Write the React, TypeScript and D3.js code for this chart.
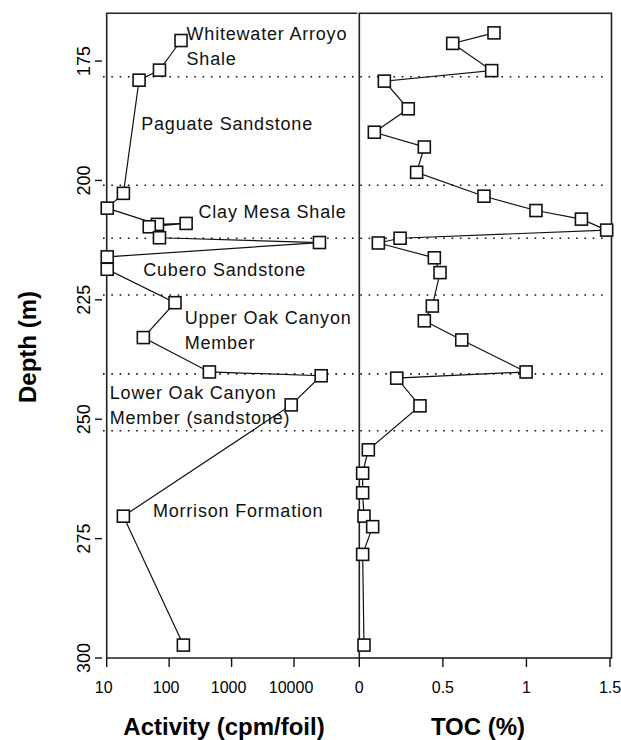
// App.tsx
import React, { useRef, useEffect } from 'react';
import * as d3 from 'd3';

// Activity profile (cpm/foil) against depth (m), in drawing order
const activityDepth = [170.7, 176.9, 179.0, 202.7, 205.8, 209.2, 209.0, 209.7, 212.0, 213.0, 216.0, 218.6, 225.6, 232.9, 240.1, 240.9, 247.0, 270.3, 297.3];
const activityValue = [155, 70, 33, 18.5, 10.2, 65, 187, 48, 70, 25500, 10.2, 10.2, 124, 38.6, 441, 27200, 9000, 18.5, 169];

// TOC profile (%) against depth (m)
const tocDepth = [169.1, 171.3, 177.0, 179.2, 185.0, 189.9, 193.0, 198.3, 203.3, 206.3, 208.1, 210.4, 212.1, 213.1, 216.2, 219.3, 226.3, 229.4, 233.4, 240.1, 241.4, 247.2, 256.4, 261.3, 265.4, 270.3, 272.5, 278.3, 297.3];
const tocValue = [0.806, 0.559, 0.792, 0.15, 0.293, 0.09, 0.389, 0.343, 0.746, 1.057, 1.329, 1.48, 0.244, 0.114, 0.449, 0.483, 0.437, 0.389, 0.613, 0.998, 0.224, 0.363, 0.054, 0.02, 0.02, 0.028, 0.08, 0.02, 0.028];

// formation boundaries (m)
const boundaries = [178.3, 201.0, 212.1, 224.0, 240.5, 252.4];

// formation names, anchored by activity value (left edge) and depth of first line
const formationLines = [
    ['Whitewater Arroyo', 'Shale'],
    ['Paguate Sandstone'],
    ['Clay Mesa Shale'],
    ['Cubero Sandstone'],
    ['Upper Oak Canyon', 'Member'],
    ['Lower Oak Canyon', 'Member (sandstone)'],
    ['Morrison Formation'],
];
const formationActivity = [190, 35.7, 295, 38.5, 177, 11.2, 55];
const formationDepth = [169.2, 188.0, 206.6, 218.6, 228.8, 244.5, 269.1];

const depthTicks = [175, 200, 225, 250, 275, 300];
const activityTicks = [10, 100, 1000, 10000];
const activityTickLabels = ['10', '100', '1000', '10000'];
const tocTicks = [0, 0.5, 1, 1.5];
const tocTickLabels = ['0', '0.5', '1', '1.5'];

function App() {
    const svgRef = useRef<SVGSVGElement | null>(null);

    useEffect(() => {
        if (!svgRef.current) return;
        const svg = d3.select(svgRef.current);
        svg.selectAll('*').remove();

        const top = 13.3;
        const bottom = 658;
        const leftX0 = 106.7;
        const tocX0 = 359.3;
        const tocX1 = 611.5;
        const font = '"Liberation Sans", Arial, sans-serif';

        const y = d3.scaleLinear().domain([165, 300]).range([top, bottom]);
        const xAct = d3.scaleLog().domain([10, 100000]).range([leftX0, 356.5]);
        const xToc = d3.scaleLinear().domain([0, 1.5]).range([tocX0, 610]);

        // dotted formation boundaries
        svg.append('g')
            .selectAll('line')
            .data(boundaries)
            .join('line')
            .attr('x1', 103)
            .attr('x2', 608)
            .attr('y1', d => y(d))
            .attr('y2', d => y(d))
            .attr('stroke', '#111')
            .attr('stroke-width', 1.6)
            .attr('stroke-dasharray', '1.6,6.7');

        // frames
        svg.append('path')
            .attr('d', `M${tocX0 - 2},${top}H${leftX0}V${bottom}H${tocX0}`)
            .attr('fill', 'none')
            .attr('stroke', '#222')
            .attr('stroke-width', 1.6);
        svg.append('rect')
            .attr('x', tocX0).attr('y', top)
            .attr('width', tocX1 - tocX0).attr('height', bottom - top)
            .attr('fill', 'none')
            .attr('stroke', '#222')
            .attr('stroke-width', 1.6);

        // depth ticks and labels
        const yAxis = svg.append('g');
        yAxis.selectAll('line')
            .data(depthTicks)
            .join('line')
            .attr('x1', 95).attr('x2', 102)
            .attr('y1', d => y(d)).attr('y2', d => y(d))
            .attr('stroke', '#111').attr('stroke-width', 1.4);
        yAxis.selectAll('text')
            .data(depthTicks)
            .join('text')
            .attr('transform', d => `translate(90,${y(d)}) rotate(-90)`)
            .attr('text-anchor', 'middle')
            .attr('font-family', font)
            .attr('font-size', 18)
            .text(d => String(d));

        // bottom ticks
        const xAxisA = svg.append('g');
        xAxisA.selectAll('line')
            .data(activityTicks)
            .join('line')
            .attr('x1', d => xAct(d)).attr('x2', d => xAct(d))
            .attr('y1', bottom).attr('y2', bottom + 9)
            .attr('stroke', '#111').attr('stroke-width', 1.4);
        xAxisA.selectAll('text')
            .data(activityTicks)
            .join('text')
            .attr('x', d => xAct(d) - 3)
            .attr('y', bottom + 35)
            .attr('text-anchor', 'middle')
            .attr('font-family', font)
            .attr('font-size', 16)
            .text((_, i) => activityTickLabels[i]);

        const xAxisT = svg.append('g');
        xAxisT.selectAll('line')
            .data(tocTicks)
            .join('line')
            .attr('x1', d => xToc(d)).attr('x2', d => xToc(d))
            .attr('y1', bottom).attr('y2', bottom + 9)
            .attr('stroke', '#111').attr('stroke-width', 1.4);
        xAxisT.selectAll('text')
            .data(tocTicks)
            .join('text')
            .attr('x', d => xToc(d))
            .attr('y', bottom + 35)
            .attr('text-anchor', 'middle')
            .attr('font-family', font)
            .attr('font-size', 16)
            .text((_, i) => tocTickLabels[i]);

        // axis titles
        svg.append('text')
            .attr('x', 224).attr('y', 735)
            .attr('text-anchor', 'middle')
            .attr('font-family', font).attr('font-weight', 'bold').attr('font-size', 24)
            .text('Activity (cpm/foil)');
        svg.append('text')
            .attr('x', 478).attr('y', 735)
            .attr('text-anchor', 'middle')
            .attr('font-family', font).attr('font-weight', 'bold').attr('font-size', 24)
            .text('TOC (%)');
        svg.append('text')
            .attr('transform', 'translate(36,347) rotate(-90)')
            .attr('text-anchor', 'middle')
            .attr('font-family', font).attr('font-weight', 'bold').attr('font-size', 24)
            .text('Depth (m)');

        // formation labels
        svg.append('g')
            .selectAll('text')
            .data(formationLines)
            .join('text')
            .attr('font-family', font)
            .attr('font-size', 18)
            .attr('letter-spacing', 0.8)
            .attr('fill', '#111')
            .each(function (lines, i) {
                const t = d3.select(this);
                lines.forEach((line, j) => {
                    t.append('tspan')
                        .attr('x', xAct(formationActivity[i]))
                        .attr('y', y(formationDepth[i]) + 6.5 + j * 25)
                        .text(line);
                });
            });

        // profiles
        const profiles = [
            { pts: activityDepth.map((d, i) => [xAct(activityValue[i]), y(d)] as [number, number]) },
            { pts: tocDepth.map((d, i) => [xToc(tocValue[i]), y(d)] as [number, number]) },
        ];
        const line = d3.line();
        profiles.forEach(p => {
            svg.append('path')
                .attr('d', line(p.pts))
                .attr('fill', 'none')
                .attr('stroke', '#111')
                .attr('stroke-width', 1.2);
            svg.append('g')
                .selectAll('rect')
                .data(p.pts)
                .join('rect')
                .attr('x', d => d[0] - 6)
                .attr('y', d => d[1] - 6)
                .attr('width', 12)
                .attr('height', 12)
                .attr('fill', 'white')
                .attr('stroke', '#111')
                .attr('stroke-width', 1.6);
        });
    }, []);

    return (
        <svg ref={svgRef} width={621} height={740}
            style={{ position: 'absolute', left: 0, top: 0, background: 'white' }} />
    );
}

export default App;
